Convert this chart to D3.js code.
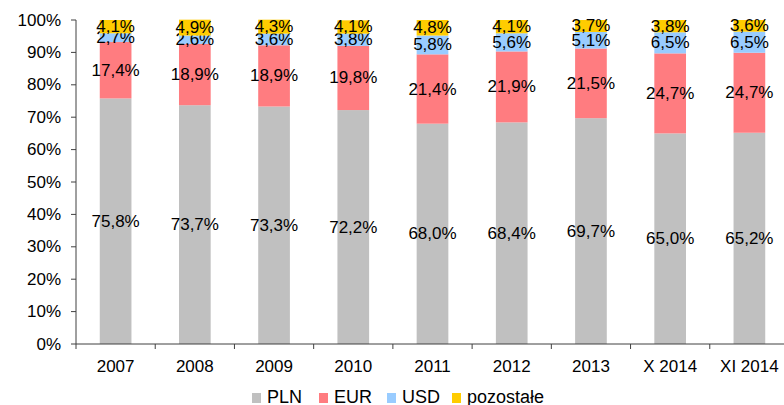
<!DOCTYPE html>
<html>
<head>
<meta charset="utf-8">
<script src="https://cdn.jsdelivr.net/npm/d3@7"></script>
<style>
  body { margin: 0; background: #fff; }
  text { font-family: "Liberation Sans", Arial, sans-serif; }
</style>
</head>
<body>
<svg id="chart" width="784" height="405"></svg>
<script>
const categories = ["2007", "2008", "2009", "2010", "2011", "2012", "2013", "X 2014", "XI 2014"];
const seriesNames = ["PLN", "EUR", "USD", "pozostałe"];
const seriesColors = ["#c0c0c0", "#ff7c80", "#99ccff", "#ffcc00"];
const plnValues = [75.8, 73.7, 73.3, 72.2, 68.0, 68.4, 69.7, 65.0, 65.2];
const eurValues = [17.4, 18.9, 18.9, 19.8, 21.4, 21.9, 21.5, 24.7, 24.7];
const usdValues = [2.7, 2.6, 3.6, 3.8, 5.8, 5.6, 5.1, 6.5, 6.5];
const otherValues = [4.1, 4.9, 4.3, 4.1, 4.8, 4.1, 3.7, 3.8, 3.6];
const yTicks = [0, 10, 20, 30, 40, 50, 60, 70, 80, 90, 100];

const svg = d3.select("#chart");
const axisColor = "#404040";

const rows = categories.map((c, i) => ({
  cat: c,
  PLN: plnValues[i],
  EUR: eurValues[i],
  USD: usdValues[i],
  "pozostałe": otherValues[i]
}));

const stacked = d3.stack().keys(seriesNames)(rows);

const x = d3.scaleBand()
  .domain(categories)
  .range([76, 789])
  .paddingInner(0.6)
  .paddingOuter(0.3);

const y = d3.scaleLinear()
  .domain([0, 100])
  .range([344, 20]);

const color = d3.scaleOrdinal().domain(seriesNames).range(seriesColors);

const fmt = v => d3.format(".1f")(v).replace(".", ",") + "%";

// bars
const layers = svg.append("g")
  .selectAll("g")
  .data(stacked)
  .enter()
  .append("g")
  .attr("fill", d => color(d.key));

layers.selectAll("rect")
  .data(d => d)
  .enter()
  .append("rect")
  .attr("x", d => x(d.data.cat))
  .attr("y", d => y(d[1]))
  .attr("width", x.bandwidth())
  .attr("height", d => y(d[0]) - y(d[1]));

// value labels
layers.selectAll("text")
  .data(d => d.map(p => Object.assign({ key: d.key }, p)))
  .enter()
  .append("text")
  .attr("x", d => x(d.data.cat) + x.bandwidth() / 2)
  .attr("y", d => y((d[0] + d[1]) / 2))
  .attr("text-anchor", "middle")
  .attr("dominant-baseline", "central")
  .attr("font-size", "17px")
  .attr("fill", "#000")
  .text(d => fmt(d.data[d.key]));

// y axis
const yAxis = svg.append("g");
yAxis.append("line")
  .attr("x1", 76).attr("x2", 76)
  .attr("y1", y(100)).attr("y2", y(0))
  .attr("stroke", axisColor);

yAxis.selectAll(".ytick")
  .data(yTicks)
  .enter()
  .append("line")
  .attr("x1", 71).attr("x2", 76)
  .attr("y1", d => y(d)).attr("y2", d => y(d))
  .attr("stroke", axisColor);

yAxis.selectAll(".ylabel")
  .data(yTicks)
  .enter()
  .append("text")
  .attr("x", 61)
  .attr("y", d => y(d))
  .attr("text-anchor", "end")
  .attr("dominant-baseline", "central")
  .attr("font-size", "17px")
  .attr("fill", "#000")
  .text(d => d + "%");

// x axis
const xAxis = svg.append("g");
xAxis.append("line")
  .attr("x1", 76).attr("x2", 789)
  .attr("y1", y(0)).attr("y2", y(0))
  .attr("stroke", axisColor);

const step = x.step();
xAxis.selectAll(".xtick")
  .data(d3.range(categories.length + 1))
  .enter()
  .append("line")
  .attr("x1", i => 76 + i * step).attr("x2", i => 76 + i * step)
  .attr("y1", y(0)).attr("y2", y(0) + 5)
  .attr("stroke", axisColor);

xAxis.selectAll(".xlabel")
  .data(categories)
  .enter()
  .append("text")
  .attr("x", d => x(d) + x.bandwidth() / 2)
  .attr("y", 366)
  .attr("text-anchor", "middle")
  .attr("dominant-baseline", "central")
  .attr("font-size", "17px")
  .attr("fill", "#000")
  .text(d => d);

// legend
const legendX = [252, 319, 387, 452];
const legend = svg.append("g")
  .selectAll("g")
  .data(seriesNames)
  .enter()
  .append("g")
  .attr("transform", (d, i) => "translate(" + legendX[i] + ",397)");

legend.append("rect")
  .attr("x", 0)
  .attr("y", -4)
  .attr("width", 9)
  .attr("height", 10)
  .attr("fill", d => color(d));

legend.append("text")
  .attr("x", 15)
  .attr("y", 0)
  .attr("dominant-baseline", "central")
  .attr("font-size", "18px")
  .attr("fill", "#000")
  .text(d => d);
</script>
</body>
</html>
